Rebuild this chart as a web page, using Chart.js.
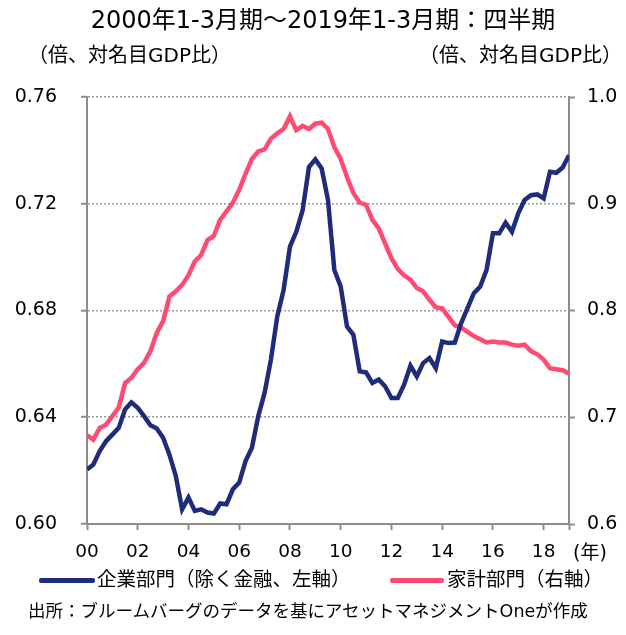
<!DOCTYPE html>
<html lang="ja">
<head>
<meta charset="utf-8">
<script src="https://cdn.jsdelivr.net/npm/chart.js@4.4.0/dist/chart.umd.min.js"></script>
<style>
  body { margin: 0; background: #fff; }
  #wrap { position: relative; width: 626px; height: 635px; font-family: "DejaVu Sans", "Noto Sans CJK JP", sans-serif; color: #000; }
  #wrap canvas { position: absolute; left: 0; top: 0; }
  .t { position: absolute; white-space: nowrap; line-height: 1; }
  .key { position: absolute; height: 5px; border-radius: 2px; }
</style>
</head>
<body>
<div id="wrap">
  <canvas id="chart" width="626" height="635"></canvas>
  <div class="t" id="title" style="left:0;width:646px;text-align:center;top:8px;font-size:24px;">2000年1-3月期～2019年1-3月期：四半期</div>
  <div class="t" style="left:28px;top:45px;font-size:20px;">（倍、対名目GDP比）</div>
  <div class="t" style="right:4px;top:45px;font-size:20px;">（倍、対名目GDP比）</div>
  <div class="t" style="left:573px;top:543px;font-size:19px;">(年)</div>
  <div class="key" style="left:39px;top:578px;width:56px;background:#1f2c7a;"></div>
  <div class="t" style="left:97px;top:570px;font-size:19.5px;">企業部門（除く金融、左軸）</div>
  <div class="key" style="left:390px;top:578px;width:54px;background:#ff4a72;"></div>
  <div class="t" style="left:447px;top:570px;font-size:19.5px;">家計部門（右軸）</div>
  <div class="t" style="left:28px;top:603px;font-size:17.5px;">出所：ブルームバーグのデータを基にアセットマネジメントOneが作成</div>
</div>
<script>
// 2000Q1 .. 2019Q1, one value per quarter
const corporate = [
  0.6204, 0.6223, 0.6273, 0.631, 0.6335, 0.636, 0.6429, 0.6456, 0.6435, 0.6404,
  0.637, 0.6358, 0.6323, 0.626, 0.618, 0.6055, 0.6099, 0.6049, 0.6055, 0.6043,
  0.6039, 0.6077, 0.6074, 0.613, 0.6155, 0.6236, 0.6286, 0.6404, 0.6491, 0.6616,
  0.6778, 0.6877, 0.7039, 0.7095, 0.7176, 0.7338, 0.7366, 0.7332, 0.7214, 0.6952,
  0.689, 0.674, 0.6709, 0.6572, 0.6568, 0.6528, 0.6541, 0.6516, 0.6472, 0.6472,
  0.6522, 0.6593, 0.6553, 0.6603, 0.6622, 0.6584, 0.6684, 0.6678, 0.668, 0.6753,
  0.6809, 0.6865, 0.689, 0.6952, 0.7089, 0.7089, 0.7129, 0.7095, 0.7164, 0.7214,
  0.7232, 0.7235, 0.722, 0.732, 0.7316, 0.7336, 0.7382
];
const household = [
  0.683, 0.679, 0.690, 0.693, 0.701, 0.709, 0.732, 0.737, 0.745, 0.751,
  0.762, 0.779, 0.790, 0.813, 0.818, 0.824, 0.833, 0.846, 0.852, 0.866,
  0.870, 0.885, 0.893, 0.901, 0.913, 0.928, 0.942, 0.949, 0.951, 0.961,
  0.966, 0.970, 0.982, 0.969, 0.973, 0.970, 0.975, 0.976, 0.970, 0.953,
  0.942, 0.925, 0.910, 0.901, 0.899, 0.885, 0.877, 0.863, 0.849, 0.839,
  0.833, 0.829, 0.821, 0.818, 0.810, 0.803, 0.802, 0.794, 0.786, 0.784,
  0.780, 0.776, 0.773, 0.770, 0.771, 0.770, 0.770, 0.768, 0.767, 0.768,
  0.762, 0.759, 0.754, 0.746, 0.745, 0.744, 0.741
];
const yearLabels = ["00", "02", "04", "06", "08", "10", "12", "14", "16", "18"];
const leftTicks = [0.60, 0.64, 0.68, 0.72, 0.76];
const rightTicks = [0.6, 0.7, 0.8, 0.9, 1.0];

const lastQ = corporate.length - 1;
const axisGray = "#8c8c8c";
const numFont = { family: "DejaVu Sans", size: 19 };

new Chart(document.getElementById("chart"), {
  type: "line",
  data: {
    datasets: [
      {
        label: "企業部門（除く金融、左軸）",
        data: corporate.map((v, i) => ({ x: i, y: v })),
        borderColor: "#1f2c7a",
        borderWidth: 4.5,
        pointRadius: 0,
        tension: 0,
        yAxisID: "yL",
      },
      {
        label: "家計部門（右軸）",
        data: household.map((v, i) => ({ x: i, y: v })),
        borderColor: "#ff4a72",
        borderWidth: 4.5,
        pointRadius: 0,
        tension: 0,
        yAxisID: "yR",
      },
    ],
  },
  options: {
    responsive: false,
    animation: false,
    layout: { padding: { top: 97, left: 0, right: 0, bottom: 0 } },
    plugins: { legend: { display: false }, tooltip: { enabled: false } },
    scales: {
      x: {
        type: "linear",
        min: 0,
        max: lastQ,
        afterBuildTicks: (s) => {
          s.ticks = yearLabels.map((_, i) => ({ value: i * 8 })).concat([{ value: lastQ }]);
        },
        afterFit: (s) => { s.height = 111; },
        ticks: {
          autoSkip: false,
          maxRotation: 0,
          padding: 11,
          color: "#000",
          font: { family: "DejaVu Sans", size: 18.5 },
          callback: (v) => (v % 8 === 0 && v / 8 < yearLabels.length ? yearLabels[v / 8] : ""),
        },
        grid: { drawOnChartArea: false, tickLength: 6, tickColor: axisGray, tickWidth: 2 },
        border: { color: axisGray, width: 2 },
      },
      yL: {
        position: "left",
        min: 0.6,
        max: 0.76,
        afterBuildTicks: (s) => { s.ticks = leftTicks.map((v) => ({ value: v })); },
        afterFit: (s) => { s.width = 87; },
        ticks: { padding: 24, color: "#000", font: numFont, callback: (v) => v.toFixed(2) },
        grid: {
          color: (c) => (c.tick && c.tick.value === 0.6 ? "rgba(0,0,0,0)" : "#999"),
          lineWidth: 1.5,
          tickLength: 6,
          tickColor: axisGray,
          tickWidth: 2,
          tickBorderDash: [],
        },
        border: { color: axisGray, width: 2, dash: [2, 2] },
      },
      yR: {
        position: "right",
        min: 0.6,
        max: 1.0,
        afterBuildTicks: (s) => { s.ticks = rightTicks.map((v) => ({ value: v })); },
        afterFit: (s) => { s.width = 57; },
        ticks: { padding: 12, color: "#000", font: numFont, callback: (v) => v.toFixed(1) },
        grid: { drawOnChartArea: false, tickLength: 6, tickColor: axisGray, tickWidth: 2 },
        border: { color: axisGray, width: 2 },
      },
    },
  },
});
</script>
</body>
</html>
